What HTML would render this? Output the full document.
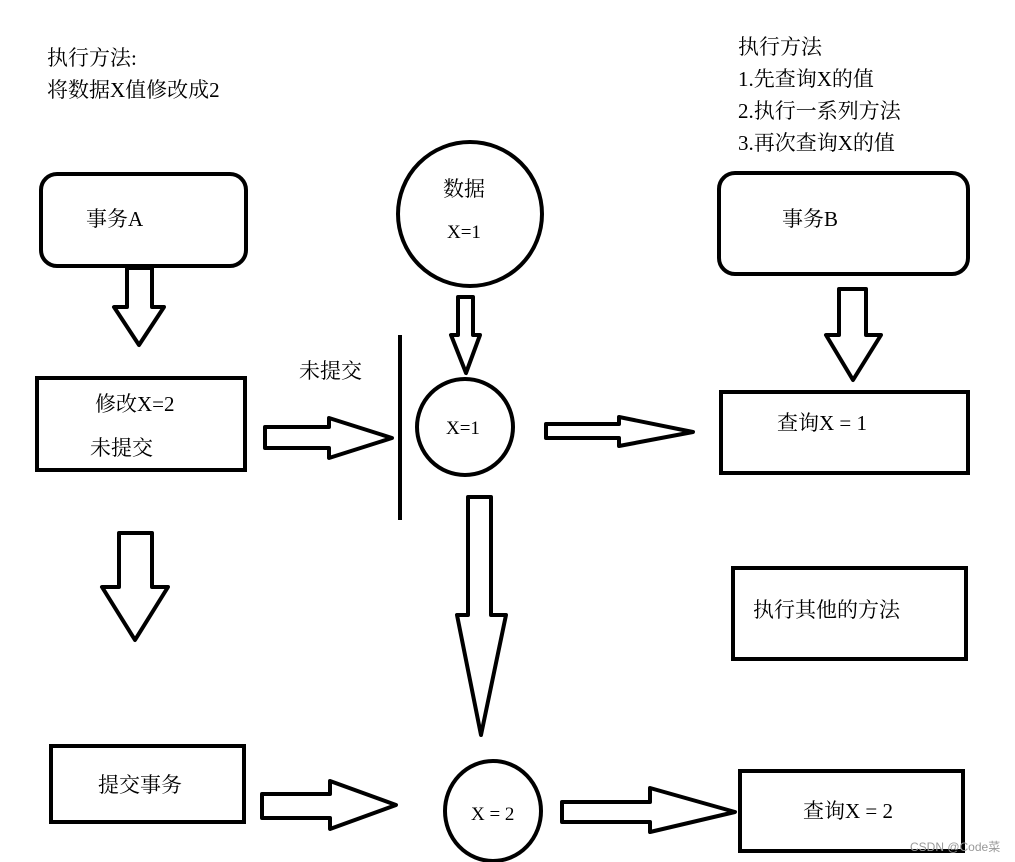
<!DOCTYPE html>
<html><head><meta charset="utf-8"><style>
html,body{margin:0;padding:0;background:#fff;}
svg{display:block;}
text{font-family:"Liberation Serif","Noto Serif CJK SC",serif;font-size:21px;fill:#000;}
</style></head><body>
<svg width="1015" height="862" viewBox="0 0 1015 862" xmlns="http://www.w3.org/2000/svg">
<g fill="none" stroke="#000" stroke-width="4" stroke-linejoin="round">
<!-- left column -->
<rect x="41" y="174" width="205" height="92" rx="16"/>
<polygon points="127,268 152,268 152,307 164,307 139,345 114,307 127,307"/>
<rect x="37" y="378" width="208" height="92" stroke-linejoin="miter"/>
<polygon points="119,533 152,533 152,587 168,587 135,640 102,587 119,587"/>
<rect x="51" y="746" width="193" height="76" stroke-linejoin="miter"/>
<polygon points="262,794 330,794 330,781 396,805 330,829 330,818 262,818"/>
<!-- middle -->
<circle cx="470" cy="214" r="72"/>
<polygon points="458,297 473,297 473,335 480,335 466,373 451,335 458,335"/>
<line x1="400" y1="335" x2="400" y2="520"/>
<polygon points="265,427 329,427 329,418 392,438 329,458 329,448 265,448"/>
<circle cx="465" cy="427" r="48"/>
<polygon points="468,497 491,497 491,615 506,615 481,735 457,615 468,615"/>
<ellipse cx="493" cy="811" rx="48" ry="50"/>
<polygon points="562,802 650,802 650,788 735,812 650,832 650,822 562,822"/>
<!-- right -->
<rect x="719" y="173" width="249" height="101" rx="16"/>
<polygon points="839,289 866,289 866,335 881,335 853,380 826,335 839,335"/>
<polygon points="546,424 619,424 619,417 693,432 619,446 619,438 546,438"/>
<rect x="721" y="392" width="247" height="81" stroke-linejoin="miter"/>
<rect x="733" y="568" width="233" height="91" stroke-linejoin="miter"/>
<rect x="740" y="771" width="223" height="80" stroke-linejoin="miter"/>
</g>
<text x="47" y="65">执行方法:</text>
<text x="47" y="97">将数据X值修改成2</text>
<text x="738" y="54">执行方法</text>
<text x="738" y="86">1.先查询X的值</text>
<text x="738" y="118">2.执行一系列方法</text>
<text x="738" y="150">3.再次查询X的值</text>
<text x="86" y="226">事务A</text>
<text x="95" y="411">修改X=2</text>
<text x="90" y="455">未提交</text>
<text x="98" y="792">提交事务</text>
<text x="299" y="378">未提交</text>
<text x="443" y="196">数据</text>
<text x="447" y="238" style="font-size:19px">X=1</text>
<text x="446" y="434" style="font-size:19px">X=1</text>
<text x="471" y="820" style="font-size:19px">X = 2</text>
<text x="782" y="226">事务B</text>
<text x="777" y="430">查询X = 1</text>
<text x="753" y="617">执行其他的方法</text>
<text x="803" y="818">查询X = 2</text>
<text x="910" y="851" style="font-size:12px;fill:#999;font-family:'Liberation Sans','Noto Sans CJK SC',sans-serif">CSDN @Code菜</text>
</svg>
</body></html>
